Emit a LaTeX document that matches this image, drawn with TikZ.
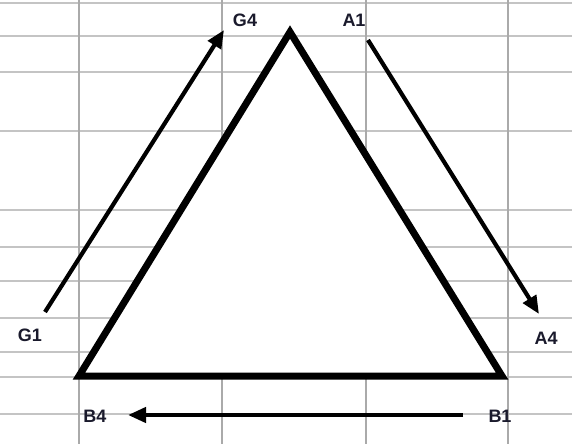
\documentclass[tikz,border=0pt]{standalone}
\usepackage{fontspec}
\setmainfont{Liberation Sans}
\usetikzlibrary{arrows.meta}
\definecolor{gridc}{HTML}{AAAAAA}
\definecolor{gridh}{HTML}{C4C4C4}
\definecolor{labc}{HTML}{1A1A2C}
\begin{document}
\begin{tikzpicture}[x=1pt,y=-1pt,
  gridv/.style={draw=gridc,line width=1.9pt},
  gridhs/.style={draw=gridh,line width=1.5pt},
  tri/.style={draw=black,line width=7pt,fill=white,line join=miter},
  flow/.style={draw=black,line width=4.2pt,-{Triangle[length=18pt,width=15pt]}},
  lab/.style={font=\bfseries\fontsize{18}{18}\selectfont,text=labc,inner sep=0pt}]
\useasboundingbox[fill=white] (0,0) rectangle (572,444);
% grid
\foreach \y in {3,36,72,131,210,247,281,318,352,377,414}
  \draw[gridhs] (0,\y) -- (572,\y);
\foreach \x in {79,222,366,508}
  \draw[gridv] (\x,0) -- (\x,444);
% triangle
\coordinate (T) at (290,32);
\coordinate (L) at (79,376);
\coordinate (R) at (502,376);
\draw[tri] (T) -- (L) -- (R) -- cycle;
% arrow end points
\coordinate (g1s) at (45,312);
\coordinate (g4e) at (224,30);
\coordinate (a1s) at (368,40);
\coordinate (a4e) at (539,314);
\coordinate (b1s) at (463,415);
\coordinate (b4e) at (128,415);
\draw[flow] (g1s) -- (g4e);
\draw[flow] (a1s) -- (a4e);
\draw[flow] (b1s) -- (b4e);
% labels
\node[lab] (G4) at (245,20) {G4};
\node[lab] (A1) at (354,20) {A1};
\node[lab] (G1) at (30,335) {G1};
\node[lab] (A4) at (546,338) {A4};
\node[lab] (B4) at (95,416) {B4};
\node[lab] (B1) at (500,416) {B1};
\end{tikzpicture}
\end{document}
